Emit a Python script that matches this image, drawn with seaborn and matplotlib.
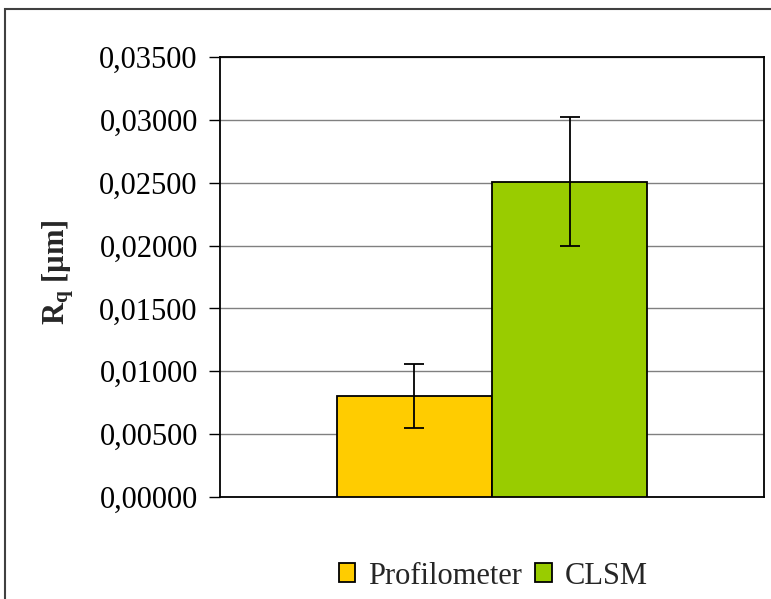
import matplotlib
matplotlib.use("Agg")
import matplotlib.pyplot as plt
from matplotlib.patches import Rectangle
from matplotlib.ticker import MultipleLocator, FuncFormatter
import seaborn as sns
import pandas as pd

methods = ["Profilometer", "CLSM"]
rq_mean = [0.00803, 0.02506]
rq_err = [0.00254, 0.00513]
colors = ["#FFCC00", "#99CC00"]

sns.set_style("white")
plt.rcParams["font.family"] = ["Liberation Serif", "DejaVu Serif"]
plt.rcParams["mathtext.fontset"] = "custom"
plt.rcParams["mathtext.rm"] = "Liberation Serif"
plt.rcParams["mathtext.bf"] = "Liberation Serif:bold"

df = pd.DataFrame({"group": ["Rq"] * len(methods), "method": methods, "Rq": rq_mean})

fig = plt.figure(figsize=(7.71, 5.99), dpi=100)
ax = fig.add_axes([220 / 771, 1 - 497 / 599, (764 - 220) / 771, (497 - 57) / 599])

sns.barplot(data=df, x="group", y="Rq", hue="method", hue_order=methods,
            palette=colors, saturation=1, width=0.57, edgecolor="black",
            linewidth=1.3, errorbar=None, legend=False, ax=ax, zorder=3)

# error bars centred on each drawn bar
bars = [p for p in ax.patches if isinstance(p, Rectangle)][:len(methods)]
for bar, m, e in zip(bars, rq_mean, rq_err):
    cx = bar.get_x() + bar.get_width() / 2
    ax.errorbar(cx, m, yerr=e, fmt="none", ecolor="black", elinewidth=1.3,
                capsize=7, capthick=1.3, zorder=4)

ax.set_xlim(-0.5, 0.5)
ax.set_ylim(0, 0.035)
ax.yaxis.set_major_locator(MultipleLocator(0.005))
ax.yaxis.set_major_formatter(FuncFormatter(lambda v, _: f"{v:.5f}".replace(".", ",")))
ax.set_xticks([])
ax.set_xlabel("")
ax.set_ylabel(r"$\mathbf{R_q}$ [µm]", fontsize=22, fontweight="bold")
ax.yaxis.set_label_coords(-0.265, 0.51)
ax.tick_params(axis="y", labelsize=22, direction="out", length=8, width=1,
               left=True, pad=8, colors="black")
ax.grid(axis="y", color="#808080", linewidth=1, zorder=0)
ax.set_axisbelow(True)
for s in ax.spines.values():
    s.set_visible(True)
    s.set_color("black")
    s.set_linewidth(1.3)

handles = [Rectangle((0, 0), 1, 1, facecolor=c, edgecolor="black", linewidth=1.3)
           for c in colors]
fig.legend(handles, methods, loc="center", bbox_to_anchor=(493 / 771, 1 - 576 / 599),
           ncol=2, frameon=False, fontsize=22, handlelength=0.55, handleheight=0.55,
           handletextpad=0.4, columnspacing=0.45)

# outer chart frame
fig.patches.append(Rectangle((5 / 771, -0.05), 1.1, 1 - 9 / 599 + 0.05,
                             transform=fig.transFigure, fill=False,
                             edgecolor="#404040", linewidth=1.5))

fig.savefig("out.png", dpi=100)
